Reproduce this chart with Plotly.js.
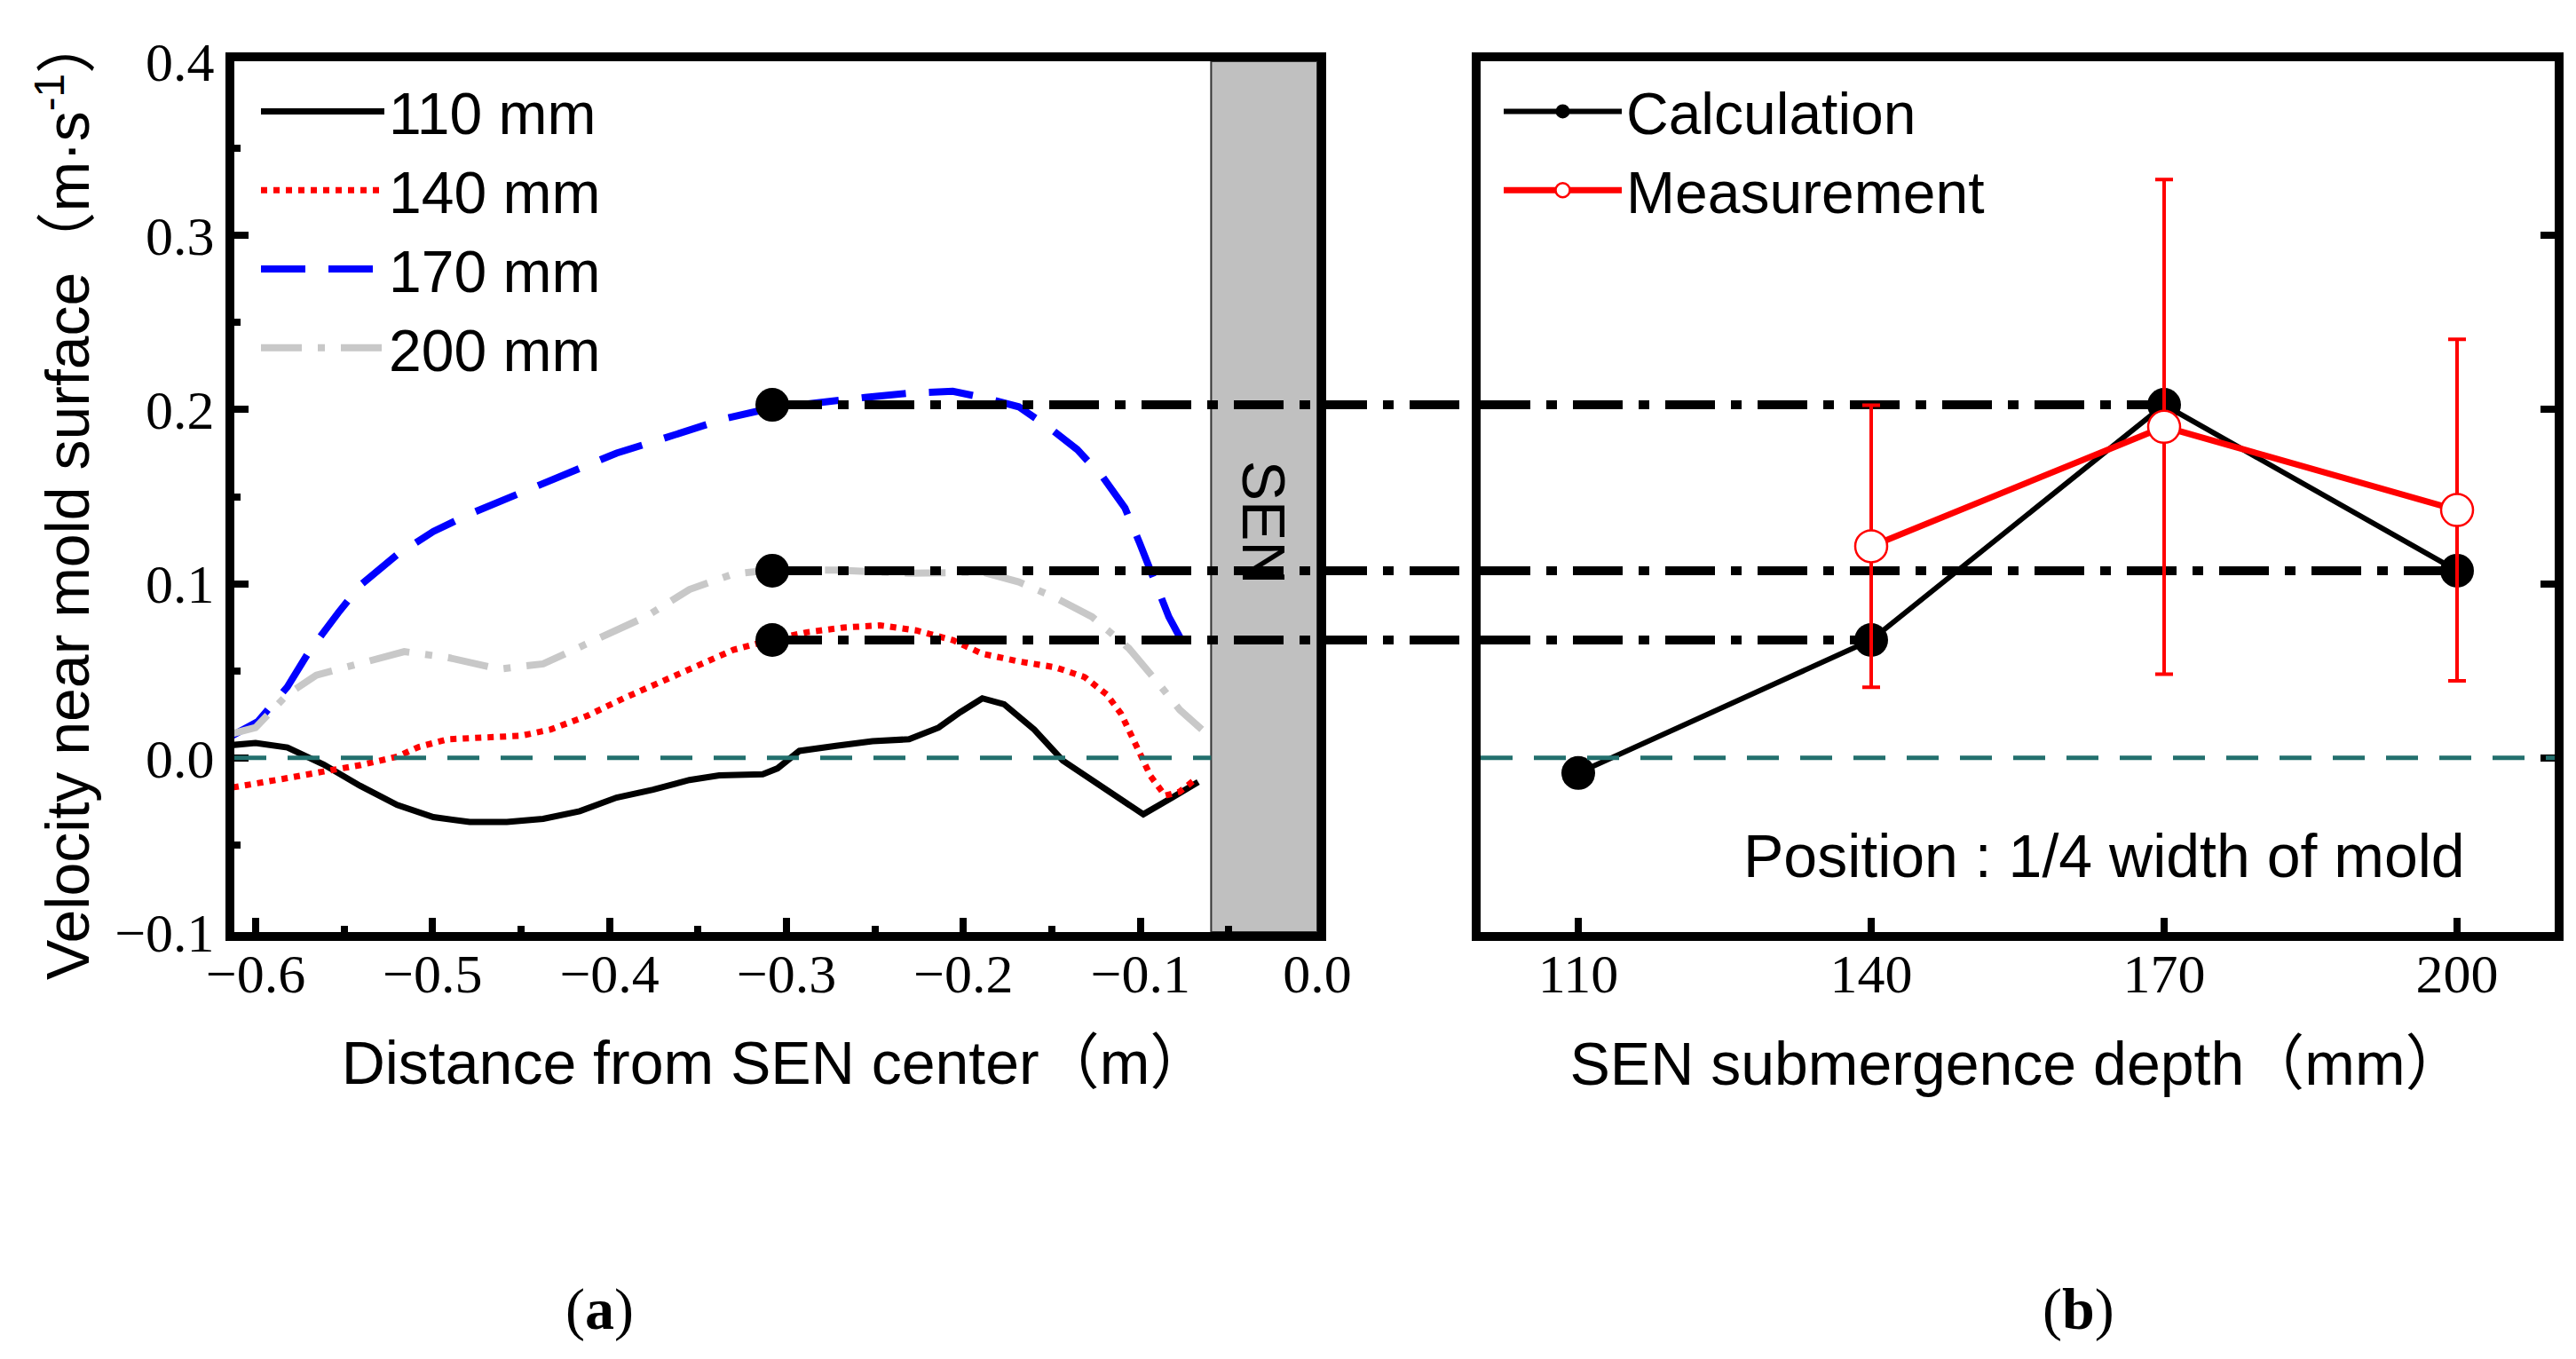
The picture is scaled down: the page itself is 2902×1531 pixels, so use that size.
<!DOCTYPE html>
<html><head><meta charset="utf-8">
<script src="https://cdn.plot.ly/plotly-3.0.1.min.js"></script>
<style>html,body{margin:0;padding:0;background:#fff}</style>
</head><body>
<div id="chart" style="width:2902px;height:1531px"></div>
<script>
// ---------- data ----------
// Panel (a): velocity near mold surface vs distance from SEN center
const x110 = [-0.613,-0.6,-0.582,-0.5615,-0.541,-0.52,-0.4995,-0.479,-0.458,-0.4375,-0.4168,-0.396,-0.3754,-0.3548,-0.338,-0.3134,-0.305,-0.2927,-0.272,-0.2514,-0.2307,-0.214,-0.2017,-0.1893,-0.177,-0.16,-0.1438,-0.1273,-0.1108,-0.0983,-0.082,-0.0673];
const y110 = [0.0074,0.0085,0.006,-0.0038,-0.016,-0.027,-0.034,-0.0368,-0.0368,-0.035,-0.0306,-0.0228,-0.0183,-0.0127,-0.010,-0.0094,-0.006,0.004,0.0069,0.0096,0.0107,0.0174,0.0263,0.0342,0.0308,0.0163,-0.0016,-0.0127,-0.0239,-0.0324,-0.0228,-0.0138];

const x140 = [-0.613,-0.6,-0.582,-0.5615,-0.541,-0.52,-0.5078,-0.4912,-0.4706,-0.45,-0.4333,-0.4127,-0.392,-0.3713,-0.3506,-0.33,-0.3093,-0.2886,-0.268,-0.2472,-0.2266,-0.206,-0.1893,-0.1687,-0.148,-0.1315,-0.119,-0.1108,-0.1025,-0.0942,-0.086,-0.0777,-0.0694];
const y140 = [-0.017,-0.015,-0.0116,-0.0078,-0.0042,0.0007,0.0063,0.0107,0.0114,0.0127,0.0163,0.0241,0.0342,0.0435,0.0531,0.062,0.0676,0.0721,0.0748,0.0761,0.0732,0.0676,0.0598,0.0554,0.052,0.0464,0.0364,0.0252,0.0074,-0.0105,-0.0217,-0.0194,-0.0127];

const x170 = [-0.613,-0.5988,-0.582,-0.5698,-0.5533,-0.541,-0.52,-0.4995,-0.479,-0.458,-0.4375,-0.4168,-0.396,-0.3754,-0.3548,-0.334,-0.3093,-0.2845,-0.2556,-0.2307,-0.206,-0.1893,-0.1687,-0.152,-0.1356,-0.121,-0.1087,-0.1004,-0.0921,-0.0839,-0.077];
const y170 = [0.0129,0.0208,0.0408,0.061,0.0833,0.099,0.1167,0.130,0.140,0.149,0.158,0.167,0.175,0.1815,0.188,0.195,0.2007,0.204,0.207,0.2094,0.2105,0.207,0.2016,0.190,0.177,0.161,0.1435,0.1234,0.101,0.081,0.068];

const x200 = [-0.613,-0.6,-0.582,-0.5657,-0.541,-0.516,-0.4912,-0.4623,-0.4375,-0.4085,-0.3796,-0.3548,-0.33,-0.3093,-0.272,-0.2307,-0.1893,-0.1687,-0.148,-0.1273,-0.1066,-0.09,-0.0777,-0.0653];
const y200 = [0.014,0.0174,0.0364,0.0475,0.0542,0.061,0.0576,0.051,0.054,0.0676,0.081,0.0967,0.1056,0.1078,0.1078,0.106,0.1067,0.101,0.092,0.081,0.063,0.043,0.0275,0.0163];

const seriesNames = ['110 mm','140 mm','170 mm','200 mm'];
const pickX = -0.308;          // distance where the values are picked (1/4 width of mold)
const senEdge = -0.06;         // SEN outer wall

// Panel (b): velocity at 1/4 width vs submergence depth
const depth = [110, 140, 170, 200];
const calc = [-0.0087, 0.0677, 0.2027, 0.1075];
const measDepth = [140, 170, 200];
const meas = [0.1215, 0.1901, 0.1423];
const measErr = [0.081, 0.142, 0.098];

const xRangeL = [-0.612, 0];
const xRangeR = [100, 210];
const yRange = [-0.1, 0.4];

// ---------- layout helpers ----------
const W = 2902, H = 1531;
const px = v => v / W, py = v => 1 - v / H;
const SANS = "'Liberation Sans', Arial, 'Noto Sans CJK SC', sans-serif";
const SERIF = "'Liberation Serif', 'Times New Roman', serif";
const leftDom = [px(264), px(1484)];
const rightDom = [px(1668), px(2878)];
const yDom = [py(1050), py(69)];

const guideLine = {color:'#000', width:10, dash:'56px,18px,12px,18px'};

const traces = [
  {x:x110, y:y110, name:seriesNames[0], mode:'lines', line:{color:'#000', width:7}, xaxis:'x', yaxis:'y', legend:'legend'},
  {x:x140, y:y140, name:seriesNames[1], mode:'lines', line:{color:'#ff0000', width:7, dash:'7px,7px'}, xaxis:'x', yaxis:'y', legend:'legend'},
  {x:x170, y:y170, name:seriesNames[2], mode:'lines', line:{color:'#0000ff', width:8, dash:'50px,26px'}, xaxis:'x', yaxis:'y', legend:'legend'},
  {x:x200, y:y200, name:seriesNames[3], mode:'lines', line:{color:'#c8c8c8', width:8, dash:'46px,18px,8px,18px'}, xaxis:'x', yaxis:'y', legend:'legend'}
];
const shapes = [
  {type:'rect', xref:'x', yref:'y', x0:senEdge, x1:xRangeL[1], y0:yRange[0], y1:yRange[1], fillcolor:'#c0c0c0', line:{color:'#333', width:2}, layer:'below'},
  {type:'line', xref:'x', yref:'y', x0:xRangeL[0], x1:senEdge, y0:0, y1:0, line:{color:'#23706e', width:5, dash:'36px,24px'}},
  {type:'line', xref:'x2 domain', yref:'y2', x0:0, x1:1, y0:0, y1:0, line:{color:'#23706e', width:5, dash:'36px,24px'}}
];
for (let i = 1; i < depth.length; i++) {
  traces.push({x:[pickX, xRangeL[1]], y:[calc[i], calc[i]], mode:'lines', line:guideLine, showlegend:false, xaxis:'x', yaxis:'y', hoverinfo:'skip'});
  traces.push({x:[xRangeR[0], depth[i]], y:[calc[i], calc[i]], mode:'lines', line:guideLine, showlegend:false, xaxis:'x2', yaxis:'y2', hoverinfo:'skip'});
  shapes.push({type:'line', xref:'paper', yref:'y', x0:leftDom[1], x1:rightDom[0], y0:calc[i], y1:calc[i], line:guideLine});
}
traces.push({x:depth.slice(1).map(() => pickX), y:calc.slice(1), mode:'markers', marker:{size:38, color:'#000'}, showlegend:false, xaxis:'x', yaxis:'y'});
traces.push({x:depth, y:calc, name:'Calculation', mode:'lines+markers', line:{color:'#000', width:6}, marker:{size:38, color:'#000'}, xaxis:'x2', yaxis:'y2', legend:'legend2'});
traces.push({x:measDepth, y:meas, name:'Measurement', mode:'lines+markers', line:{color:'#ff0000', width:7},
  marker:{size:36, color:'#fff', line:{color:'#ff0000', width:2.5}},
  error_y:{type:'data', array:measErr, visible:true, color:'#ff0000', thickness:4, width:10},
  xaxis:'x2', yaxis:'y2', legend:'legend2'});

const tickFont = {family:SERIF, size:62, color:'#000'};
const titleFont = {family:SANS, size:68, color:'#000'};
const axBase = {showline:true, linewidth:10, linecolor:'#000', mirror:true, showgrid:false, zeroline:false,
  ticks:'inside', ticklen:16, tickwidth:8, tickcolor:'#000', tickfont:tickFont};
const legendFont = {family:SANS, size:66, color:'#000'};

const layout = {
  width:W, height:H, margin:{l:0, r:0, t:0, b:0}, paper_bgcolor:'#fff', plot_bgcolor:'#fff',
  font:{family:SANS, color:'#000'},
  xaxis:Object.assign({}, axBase, {domain:leftDom, range:xRangeL, anchor:'y', dtick:0.1, tick0:0, tickformat:'.1f', ticklabelstandoff:-16,
    minor:{ticks:'inside', ticklen:7, tickwidth:8, tickcolor:'#000', dtick:0.05, tick0:0},
    title:{text:'Distance from SEN center（m）', font:titleFont, standoff:47}}),
  yaxis:Object.assign({}, axBase, {domain:yDom, range:yRange, anchor:'x', dtick:0.1, tick0:0, tickformat:'.1f',
    minor:{ticks:'inside', ticklen:7, tickwidth:8, tickcolor:'#000', dtick:0.05, tick0:0},
    title:{text:'Velocity near mold surface（m·s<sup>-1</sup>）', font:titleFont, standoff:10}}),
  xaxis2:Object.assign({}, axBase, {domain:rightDom, range:xRangeR, anchor:'y2', tickvals:depth, ticklabelstandoff:-16,
    title:{text:'SEN submergence depth（mm）', font:titleFont, standoff:48}}),
  yaxis2:Object.assign({}, axBase, {domain:yDom, range:yRange, anchor:'x2', side:'right', dtick:0.1, tick0:0, showticklabels:false}),
  legend:{x:px(289), y:py(76), xanchor:'left', yanchor:'top', font:legendFont, itemwidth:139, bgcolor:'rgba(0,0,0,0)'},
  legend2:{x:px(1689), y:py(76), xanchor:'left', yanchor:'top', font:legendFont, itemwidth:133, bgcolor:'rgba(0,0,0,0)'},
  shapes:shapes,
  annotations:[
    {xref:'x', yref:'y', x:(senEdge + xRangeL[1]) / 2, y:0.135, text:'SEN', textangle:90, showarrow:false, font:{family:SANS, size:68, color:'#000'}},
    {xref:'x2', yref:'y2', x:201, y:-0.056, xanchor:'right', yanchor:'middle', text:'Position : 1/4 width of mold', showarrow:false, font:{family:SANS, size:68, color:'#000'}},
    {xref:'paper', yref:'paper', x:px(675), y:py(1475), xanchor:'center', yanchor:'middle', text:'(<b>a</b>)', showarrow:false, font:{family:SERIF, size:66, color:'#000'}},
    {xref:'paper', yref:'paper', x:px(2341), y:py(1475), xanchor:'center', yanchor:'middle', text:'(<b>b</b>)', showarrow:false, font:{family:SERIF, size:66, color:'#000'}}
  ]
};

Plotly.newPlot('chart', traces, layout, {displayModeBar:false, staticPlot:true});
</script>
</body></html>
